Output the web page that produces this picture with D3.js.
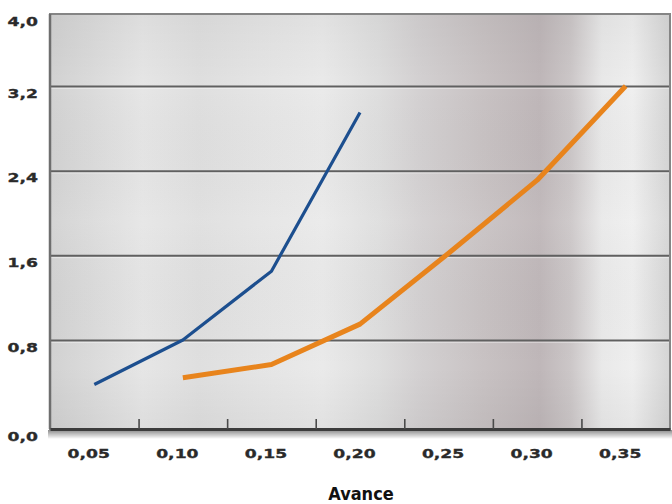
<!DOCTYPE html>
<html>
<head>
<meta charset="utf-8">
<script src="https://cdn.jsdelivr.net/npm/d3@7"></script>
<style>
  html, body { margin: 0; padding: 0; background: #fff; }
  svg { display: block; }
</style>
</head>
<body>
<svg id="chart" width="672" height="504"></svg>
<script>
// Avance (x) values shared by both curves
const avance = [0.05, 0.10, 0.15, 0.20, 0.25, 0.30, 0.35];
// Blue curve: x values and readings
const blueX = [0.05, 0.10, 0.15, 0.20];
const blueY = [0.40, 0.80, 1.45, 2.95];
// Orange curve: x values and readings
const orangeX = [0.10, 0.15, 0.20, 0.25, 0.30, 0.35];
const orangeY = [0.46, 0.58, 0.95, 1.62, 2.31, 3.20];
// Axis ticks
const yTicks = [0, 0.8, 1.6, 2.4, 3.2, 4.0];
const xTickMarks = [0.075, 0.125, 0.175, 0.225, 0.275, 0.325];
const xLabel = "Avance";

const svg = d3.select("#chart");
const L = 50, R = 670, T = 14, B = 429;

const x = d3.scaleLinear().domain([0.025, 0.375]).range([L, R]);
// Scale of the printed grid (the outer bands are drawn slightly narrower)
const y = d3.scaleLinear().domain([0, 0.8, 3.2, 4.0]).range([B, 340, 86, T]);

const loc = d3.formatLocale({decimal: ",", thousands: ".", grouping: [3], currency: ["", " €"]});
const fx = loc.format(".2f");
const fy = loc.format(".1f");

// ---- brushed metal background ----
const defs = svg.append("defs");
const hg = defs.append("linearGradient").attr("id", "metal")
  .attr("x1", 0).attr("x2", 1).attr("y1", 0).attr("y2", 0);
[
  [0.00, "#d2d2d2"], [0.06, "#dadada"], [0.15, "#e6e6e6"], [0.24, "#dfdfdf"],
  [0.34, "#e5e5e5"], [0.44, "#eaeaea"], [0.53, "#dedede"], [0.60, "#d3d0d1"],
  [0.70, "#c8c2c3"], [0.79, "#bfb7b9"], [0.84, "#ccc7c8"], [0.89, "#e9e9e9"],
  [0.94, "#efefef"], [1.00, "#d5d5d5"]
].forEach(([o, c]) => hg.append("stop").attr("offset", o).attr("stop-color", c));

const vg = defs.append("linearGradient").attr("id", "shade")
  .attr("x1", 0).attr("x2", 0).attr("y1", 0).attr("y2", 1);
[
  [0.00, "rgba(0,0,0,0.04)"], [0.18, "rgba(0,0,0,0.0)"], [0.5, "rgba(255,255,255,0.05)"],
  [0.85, "rgba(0,0,0,0.0)"], [1.00, "rgba(0,0,0,0.04)"]
].forEach(([o, c]) => vg.append("stop").attr("offset", o).attr("stop-color", c));

const sg = defs.append("linearGradient").attr("id", "drop")
  .attr("x1", 0).attr("x2", 0).attr("y1", 0).attr("y2", 1);
sg.append("stop").attr("offset", 0).attr("stop-color", "rgba(0,0,0,0.45)");
sg.append("stop").attr("offset", 1).attr("stop-color", "rgba(0,0,0,0)");

const soft = defs.append("filter").attr("id", "soft");
soft.append("feGaussianBlur").attr("stdDeviation", 0.45);

svg.append("rect").attr("x", L).attr("y", T).attr("width", R - L).attr("height", B - T)
  .attr("fill", "url(#metal)");
svg.append("rect").attr("x", L).attr("y", T).attr("width", R - L).attr("height", B - T)
  .attr("fill", "url(#shade)");

// ---- horizontal grid lines ----
const grid = svg.append("g").attr("transform", `translate(${L},0)`)
  .call(d3.axisLeft(y).tickValues(yTicks.slice(1, -1)).tickSize(-(R - L)).tickFormat(""));
grid.select(".domain").remove();
grid.selectAll(".tick line").attr("stroke", "#606060").attr("stroke-width", 2);
grid.selectAll(".tick").append("line")
  .attr("x2", R - L).attr("y1", 1.8).attr("y2", 1.8)
  .attr("stroke", "rgba(255,255,255,0.45)").attr("stroke-width", 1);

// ---- frame ----
svg.append("rect").attr("x", L).attr("y", T).attr("width", R - L).attr("height", B - T)
  .attr("fill", "none").attr("stroke", "#858585").attr("stroke-width", 2);
svg.append("line").attr("x1", L).attr("x2", L).attr("y1", T).attr("y2", B)
  .attr("stroke", "#6e6e6e").attr("stroke-width", 2.5);

// shadow under the base line
svg.append("rect").attr("x", L - 2).attr("y", B + 1).attr("width", R - L + 4).attr("height", 9)
  .attr("fill", "url(#drop)");

// ---- x axis: tick marks between the values ----
const xMarks = svg.append("g").attr("transform", `translate(0,${B})`)
  .call(d3.axisBottom(x).tickValues(xTickMarks).tickSize(-10).tickSizeOuter(0).tickFormat(""));
xMarks.select(".domain").attr("stroke", "#3c3c3c").attr("stroke-width", 3);
xMarks.selectAll(".tick line").attr("stroke", "#4a4a4a").attr("stroke-width", 1.6);

// x labels
const xLab = svg.append("g").attr("transform", `translate(0,${B})`)
  .call(d3.axisBottom(x).tickValues(avance).tickSize(0).tickFormat(fx));
xLab.select(".domain").remove();
xLab.selectAll(".tick text")
  .attr("x", 0).attr("y", 0).attr("dy", null)
  .attr("transform", "translate(-6,29) scale(1.32,1)")
  .attr("font-family", "'DejaVu Sans', sans-serif").attr("font-weight", "bold")
  .attr("font-size", 13).attr("fill", "#2a2a2a")
  .attr("stroke", "#2a2a2a").attr("stroke-width", 0.35)
  .attr("text-anchor", "middle");

// y labels
const yLab = svg.append("g").attr("transform", `translate(${L},0)`)
  .call(d3.axisLeft(y).tickValues(yTicks).tickSize(0).tickFormat(fy));
yLab.select(".domain").remove();
yLab.selectAll(".tick text")
  .attr("x", 0).attr("dy", null)
  .attr("transform", "translate(-12,11) scale(1.32,1)")
  .attr("font-family", "'DejaVu Sans', sans-serif").attr("font-weight", "bold")
  .attr("font-size", 13).attr("fill", "#2a2a2a")
  .attr("stroke", "#2a2a2a").attr("stroke-width", 0.35)
  .attr("text-anchor", "end");

// axis title
svg.append("text").attr("x", 361).attr("y", 500).attr("text-anchor", "middle")
  .attr("font-family", "'Liberation Sans Narrow', 'DejaVu Sans Condensed', 'Roboto Condensed', sans-serif")
  .attr("font-weight", "bold").attr("font-size", 18).attr("fill", "#111")
  .text(xLabel);

// ---- curves ----
const line = d3.line().x(d => x(d[0])).y(d => y(d[1]));
svg.append("path").datum(d3.zip(blueX, blueY)).attr("d", line)
  .attr("fill", "none").attr("stroke", "#1f4f8f").attr("stroke-width", 3.2)
  .attr("stroke-linejoin", "round").attr("filter", "url(#soft)");
svg.append("path").datum(d3.zip(orangeX, orangeY)).attr("d", line)
  .attr("fill", "none").attr("stroke", "#e8841f").attr("stroke-width", 5)
  .attr("stroke-linejoin", "round").attr("filter", "url(#soft)");
</script>
</body>
</html>
